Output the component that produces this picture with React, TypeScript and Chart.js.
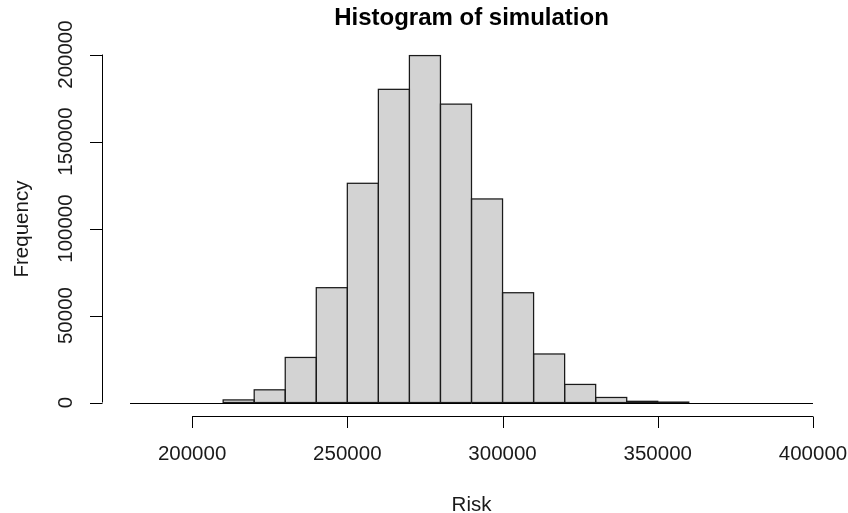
import React, { useEffect, useRef } from "react";
import { Chart, registerables } from "chart.js";

Chart.register(...registerables);

// ---- Data ----
const binStarts = [
  180000, 190000, 200000, 210000, 220000, 230000, 240000, 250000, 260000, 270000, 280000,
  290000, 300000, 310000, 320000, 330000, 340000, 350000, 360000, 370000, 380000, 390000,
];
const binWidth = 10000;
const frequencies = [
  0, 0, 0, 1500, 7300, 25900, 66000, 126000, 180000, 199400, 171500,
  117000, 63100, 27900, 10400, 2900, 700, 250, 0, 0, 0, 0,
];
const xTickValues = [200000, 250000, 300000, 350000, 400000];
const yTickValues = [0, 50000, 100000, 150000, 200000];
const titleText = "Histogram of simulation";
const xLabelText = "Risk";
const yLabelText = "Frequency";

const FONT = '"Liberation Sans", Arial, sans-serif';

export default function App() {
  const canvasRef = useRef<HTMLCanvasElement | null>(null);

  useEffect(() => {
    const canvas = canvasRef.current;
    if (!canvas) return;

    const xMinData = binStarts[0];
    const xMaxData = binStarts[binStarts.length - 1] + binWidth;
    const xExt = (xMaxData - xMinData) * 0.04;
    const yMaxData = Math.max(...frequencies);
    const yExt = yMaxData * 0.04;

    const rAxesPlugin = {
      id: "rAxes",
      afterDatasetsDraw(chart: any) {
        const ctx = chart.ctx as CanvasRenderingContext2D;
        const xs = chart.scales.x;
        const ys = chart.scales.y;
        const area = chart.chartArea;
        ctx.save();

        // bar outlines, drawn like R's rect() (centred on the edges)
        ctx.strokeStyle = "#1a1a1a";
        ctx.lineWidth = 1.25;
        const meta = chart.getDatasetMeta(0);
        meta.data.forEach((el: any, i: number) => {
          if (frequencies[i] <= 0) return;
          const l = el.x - el.width / 2;
          const r = el.x + el.width / 2;
          const t = el.y;
          const b = el.base;
          ctx.strokeRect(l, t, r - l, b - t);
        });

        ctx.strokeStyle = "#000";
        ctx.lineWidth = 1;
        ctx.fillStyle = "#000";

        // baseline of histogram (zero-height rects)
        const y0 = Math.round(ys.getPixelForValue(0)) + 0.5;
        ctx.beginPath();
        ctx.moveTo(xs.getPixelForValue(xMinData), y0);
        ctx.lineTo(xs.getPixelForValue(xMaxData), y0);
        ctx.stroke();

        // x axis
        const axY = Math.round(area.bottom) + 0.5;
        const tickLen = 11.5;
        ctx.beginPath();
        ctx.moveTo(xs.getPixelForValue(xTickValues[0]), axY);
        ctx.lineTo(xs.getPixelForValue(xTickValues[xTickValues.length - 1]), axY);
        for (const v of xTickValues) {
          const px = Math.round(xs.getPixelForValue(v)) + 0.5;
          ctx.moveTo(px, axY);
          ctx.lineTo(px, axY + tickLen);
        }
        ctx.stroke();
        ctx.font = `20.5px ${FONT}`;
        ctx.textAlign = "center";
        ctx.textBaseline = "alphabetic";
        ctx.fillStyle = "#1a1a1a";
        for (const v of xTickValues) {
          ctx.fillText(String(v), xs.getPixelForValue(v), 460);
        }

        // y axis
        const axX = Math.round(area.left) - 0.5;
        ctx.beginPath();
        ctx.moveTo(axX, ys.getPixelForValue(yTickValues[0]));
        ctx.lineTo(axX, ys.getPixelForValue(yTickValues[yTickValues.length - 1]));
        for (const v of yTickValues) {
          const py = Math.round(ys.getPixelForValue(v)) + 0.5;
          ctx.moveTo(axX, py);
          ctx.lineTo(axX - 12.5, py);
        }
        ctx.stroke();
        for (const v of yTickValues) {
          ctx.save();
          ctx.translate(71.5, ys.getPixelForValue(v));
          ctx.rotate(-Math.PI / 2);
          ctx.fillText(String(v), 0, 0);
          ctx.restore();
        }

        // axis titles
        const cx = (area.left + area.right) / 2;
        const cy = (area.top + area.bottom) / 2;
        ctx.fillText(xLabelText, cx, 510.5);
        ctx.save();
        ctx.translate(27.5, cy);
        ctx.rotate(-Math.PI / 2);
        ctx.fillText(yLabelText, 0, 0);
        ctx.restore();

        // main title
        ctx.fillStyle = "#000";
        ctx.font = `bold 24px ${FONT}`;
        ctx.fillText(titleText, cx, 25);
        ctx.restore();
      },
    };

    const chart = new Chart(canvas, {
      type: "bar",
      data: {
        datasets: [
          {
            data: binStarts.map((s, i) => ({ x: s + binWidth / 2, y: frequencies[i] })),
            backgroundColor: "#d3d3d3",
            borderWidth: 0,
            inflateAmount: 0,
            barPercentage: 1,
            categoryPercentage: 1,
          } as any,
        ],
      },
      options: {
        responsive: false,
        animation: false,
        layout: { padding: { left: 102.7, right: 7.7, top: 41.7, bottom: 96.6 } },
        plugins: { legend: { display: false }, tooltip: { enabled: false } },
        scales: {
          x: {
            type: "linear",
            display: false,
            min: xMinData - xExt,
            max: xMaxData + xExt,
            offset: false,
          },
          y: {
            type: "linear",
            display: false,
            min: -yExt,
            max: yMaxData + yExt,
          },
        },
      },
      plugins: [rAxesPlugin],
    });

    return () => chart.destroy();
  }, []);

  return (
    <div style={{ position: "fixed", left: 0, top: 0, width: 848, height: 513, background: "#fff" }}>
      <canvas ref={canvasRef} width={848} height={513} style={{ width: 848, height: 513 }} />
    </div>
  );
}
